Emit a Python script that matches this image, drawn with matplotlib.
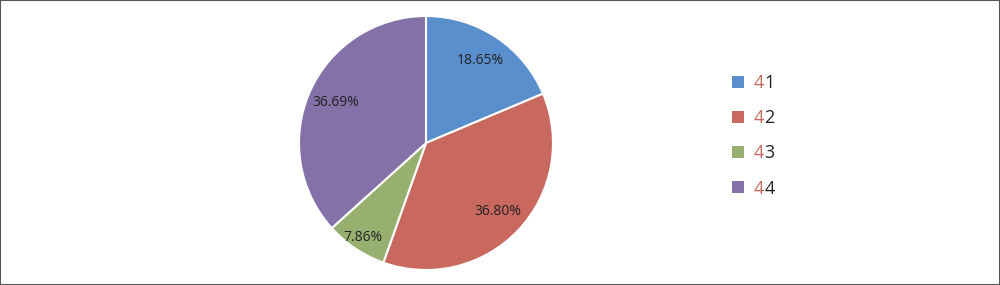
import matplotlib.pyplot as plt
from matplotlib.patches import Patch, Rectangle
import numpy as np

# datos de la torta
labels = ['41', '42', '43', '44']
values = [18.65, 36.80, 7.86, 36.69]
colors = ['#5a8fce', '#c9685e', '#98b06f', '#8371a8']

plt.rcParams['font.family'] = ['Open Sans', 'DejaVu Sans']

fig = plt.figure(figsize=(10, 2.85), dpi=100)
fig.patches.append(Rectangle((0, 0), 1, 1, transform=fig.transFigure,
                             fill=False, edgecolor='#555555', lw=1.5))

# ejes para la torta (centro ~ (426,143) px, radio ~127 px)
ax = fig.add_axes([(426 - 127) / 1000, (285 - 143 - 127) / 285, 254 / 1000, 254 / 285])
wedges, texts, autotexts = ax.pie(values, colors=colors, startangle=90, counterclock=False,
                                  autopct='%.2f%%', pctdistance=0.78,
                                  wedgeprops=dict(edgecolor='white', linewidth=1.5),
                                  textprops=dict(fontsize=10, color='#222222'))
# la etiqueta chica va mas afuera
x, y = autotexts[2].get_position()
autotexts[2].set_position((x * 1.15, y * 1.15))
ax.set_xlim(-1, 1)
ax.set_ylim(-1, 1)
ax.set_aspect('equal')

# leyenda: el "4" en rojo y el segundo digito en negro
handles = [Patch(facecolor=c, edgecolor='none') for c in colors]
leg = fig.legend(handles, ['4'] * 4, loc='upper left', bbox_to_anchor=(0.716, 0.797),
                 frameon=False, fontsize=13, handlelength=0.65, handleheight=0.65,
                 handletextpad=0.55, labelspacing=0.95)
for t in leg.get_texts():
    t.set_color('#c9685e')

fig.canvas.draw()
r = fig.canvas.get_renderer()
for t, lab in zip(leg.get_texts(), labels):
    bb = t.get_window_extent(r)
    fig.text(bb.x1 / 1000, bb.y0 / 285, lab[1], fontsize=13, color='#222222',
             ha='left', va='bottom')

plt.savefig('out.png', dpi=100)
